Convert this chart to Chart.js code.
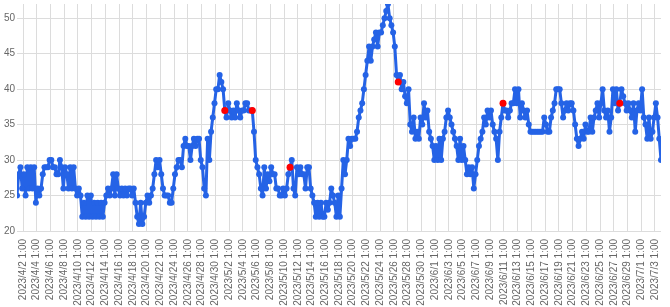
<!DOCTYPE html>
<html><head><meta charset="utf-8">
<script src="https://cdn.jsdelivr.net/npm/chart.js@4.4.0/dist/chart.umd.min.js"></script>
<style>html,body{margin:0;padding:0;background:#fff;}#wrap{width:670px;height:307px;}</style>
</head><body><div id="wrap"><canvas id="c" width="670" height="307"></canvas></div>
<script>
// series sampled every 6 hours starting 2023/4/1 4:00
const startTime = '2023/4/1 4:00';
const stepHours = 6;
const values = [
  25,28,29,26,28,25,29,26,29,26,29,24,26,25,26,28,29,
  29,29,30,30,29,
  29,28,28,30,29,26,29,28,26,29,26,29,26,25,26,25,22,24,22,
  25,22,25,22,24,22,24,22,24,22,
  24,25,26,25,26,28,25,28,26,25,26,25,26,25,26,26,25,26,
  24,22,21,24,21,22,24,25,24,25,26,28,
  30,29,30,28,26,25,25,25,24,24,26,28,29,30,30,29,
  32,33,32,32,30,32,33,32,33,33,30,29,26,25,33,30,
  34,36,38,40,40,42,41,40,
  37,36,38,37,36,37,36,38,37,36,37,37,38,38,37,37,37,
  34,30,29,28,26,25,29,26,28,27,
  29,28,28,26,26,25,25,26,25,26,28,29,30,
  26,25,29,28,29,28,28,26,29,29,26,25,
  24,22,24,22,24,22,22,24,23,24,26,25,24,22,25,22,
  26,30,28,30,33,32,33,33,33,34,36,37,38,40,42,44,46,
  44,46,47,48,46,48,48,49,50,51,52,50,49,48,46,42,41,
  42,40,41,39,38,40,35,34,36,33,34,33,36,35,38,36,37,34,33,32,30,32,30,
  33,30,33,34,36,37,36,35,34,33,32,30,33,30,32,30,
  28,29,28,29,26,28,30,32,33,34,36,35,37,36,37,35,34,33,30,
  34,36,38,37,37,36,37,38,38,40,38,40,36,38,37,36,
  37,35,34,34,34,34,34,34,34,34,36,35,34,34,36,37,
  38,40,40,40,38,36,37,38,37,38,38,37,35,33,32,33,
  34,33,35,34,34,36,34,36,37,38,36,38,40,37,36,37,
  34,36,40,38,40,37,38,40,39,38,37,38,37,36,38,34,
  37,38,37,40,36,35,33,36,33,34,36,38,36,33,30
];
// highlighted (red) samples, as positions in the series
const markIndex = [121, 137, 159, 222, 283, 351];
const tickLabels = [
  '2023/4/2 1:00','2023/4/4 1:00','2023/4/6 1:00','2023/4/8 1:00','2023/4/10 1:00','2023/4/12 1:00',
  '2023/4/14 1:00','2023/4/16 1:00','2023/4/18 1:00','2023/4/20 1:00','2023/4/22 1:00','2023/4/24 1:00',
  '2023/4/26 1:00','2023/4/28 1:00','2023/4/30 1:00','2023/5/2 1:00','2023/5/4 1:00','2023/5/6 1:00',
  '2023/5/8 1:00','2023/5/10 1:00','2023/5/12 1:00','2023/5/14 1:00','2023/5/16 1:00','2023/5/18 1:00',
  '2023/5/20 1:00','2023/5/22 1:00','2023/5/24 1:00','2023/5/26 1:00','2023/5/28 1:00','2023/5/30 1:00',
  '2023/6/1 1:00','2023/6/3 1:00','2023/6/5 1:00','2023/6/7 1:00','2023/6/9 1:00','2023/6/11 1:00',
  '2023/6/13 1:00','2023/6/15 1:00','2023/6/17 1:00','2023/6/19 1:00','2023/6/21 1:00','2023/6/23 1:00',
  '2023/6/25 1:00','2023/6/27 1:00','2023/6/29 1:00','2023/7/1 1:00','2023/7/3 1:00'
];
const firstTickHours = 21;   // 2023/4/2 1:00 relative to start
const tickStepHours = 48;
const yTicks = [20, 25, 30, 35, 40, 45, 50];

const blue = '#2563e6';
const red = '#ff0000';
const tickFont = { family: 'Liberation Sans, Arial, sans-serif', size: 10 };

new Chart(document.getElementById('c').getContext('2d'), {
  type: 'line',
  data: {
    datasets: [
      {
        label: 'mark',
        data: markIndex.map(i => ({ x: i * stepHours, y: values[i] })),
        showLine: false,
        pointRadius: 3.5,
        pointBackgroundColor: red,
        pointBorderColor: red,
        pointBorderWidth: 0,
        order: 0
      },
      {
        label: 'value',
        data: values.map((v, i) => ({ x: i * stepHours, y: v })),
        borderColor: blue,
        borderWidth: 3,
        borderJoinStyle: 'round',
        borderCapStyle: 'round',
        pointRadius: 3,
        pointBackgroundColor: blue,
        pointBorderColor: blue,
        pointBorderWidth: 0,
        tension: 0,
        order: 1
      }
    ]
  },
  options: {
    responsive: false,
    animation: false,
    devicePixelRatio: 1,
    layout: { padding: { left: 0, right: 9, top: 0, bottom: 0 } },
    plugins: { legend: { display: false }, tooltip: { enabled: false } },
    scales: {
      x: {
        type: 'linear',
        min: 0,
        max: (values.length - 1) * stepHours,
        afterBuildTicks: s => { s.ticks = tickLabels.map((l, k) => ({ value: firstTickHours + k * tickStepHours })); },
        ticks: {
          autoSkip: false, minRotation: 90, maxRotation: 90, padding: 8,
          color: '#666', font: tickFont,
          callback: (v, i) => tickLabels[i]
        },
        grid: { color: '#dcdcdc', drawTicks: false, lineWidth: 1 },
        border: { display: false },
        afterFit: s => { s.height = 76; s.paddingLeft = 0; s.paddingRight = 0; }
      },
      y: {
        min: 20, max: 52,
        afterBuildTicks: s => { s.ticks = yTicks.map(v => ({ value: v })); },
        ticks: { padding: 2, color: '#666', font: tickFont },
        grid: { color: '#dcdcdc', drawTicks: false, lineWidth: 1 },
        border: { display: false },
        afterFit: s => { s.width = 17; s.paddingTop = 0; s.paddingBottom = 0; }
      }
    }
  }
});
</script>
</body></html>
